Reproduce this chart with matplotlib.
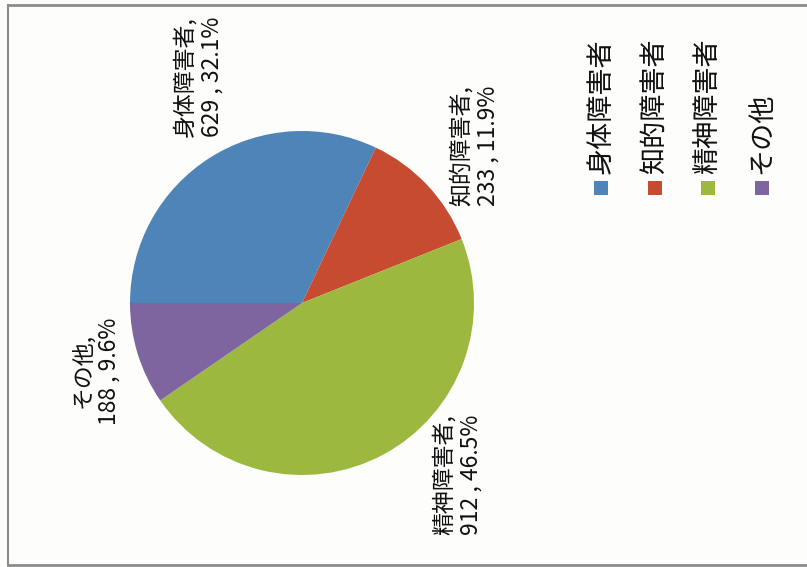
import matplotlib.pyplot as plt
from matplotlib.patches import Rectangle

categories = ['身体障害者', '知的障害者', '精神障害者', 'その他']
counts = [629, 233, 912, 188]
percents = [32.1, 11.9, 46.5, 9.6]
colors = ['#4f84b9', '#c64b30', '#9cb83e', '#7f65a0']

W, H = 807, 567
plt.rcParams['font.family'] = ['Noto Sans CJK JP', 'DejaVu Sans']

fig = plt.figure(figsize=(W / 100, H / 100), dpi=100)
fig.patch.set_facecolor('#fdfdfb')
ax = fig.add_axes([0, 0, 1, 1])

# chart is rotated 90 deg: slices start at 9 o'clock, go clockwise on screen
# (y axis is inverted, so counterclock=True looks clockwise)
ax.pie(counts, colors=colors, startangle=180, counterclock=True,
       center=(302, 303), radius=172, frame=True,
       wedgeprops={'linewidth': 0})
ax.set_xlim(0, W)
ax.set_ylim(H, 0)
ax.set_aspect('auto')
ax.axis('off')

# data labels (pixel positions of label centres)
label_pos = [(198, 77), (474, 146), (457, 475), (96, 371)]
for cat, n, p, (x, y) in zip(categories, counts, percents, label_pos):
    ax.text(x, y, f'{cat},\n{n} , {p}%', rotation=90, fontsize=16.5,
            ha='center', va='center', multialignment='center',
            linespacing=1.2, color='#111111')

# legend drawn rotated
for i, (cat, c) in enumerate(zip(categories, colors)):
    x = 601 + i * 53.5
    ax.add_patch(Rectangle((x - 7, 181), 14, 14, color=c, lw=0))
    ax.text(x, 174, cat, rotation=90, fontsize=19.5, ha='center', va='bottom',
            color='#111111')

# frame of the scanned chart
ax.plot([8, 8], [5, 565], color='#8c8c8c', lw=1.5)
ax.plot([8, W], [5, 5], color='#8c8c8c', lw=2)
ax.plot([8, W], [565, 565], color='#8c8c8c', lw=2)

fig.savefig('out.png', dpi=100, facecolor=fig.get_facecolor())
